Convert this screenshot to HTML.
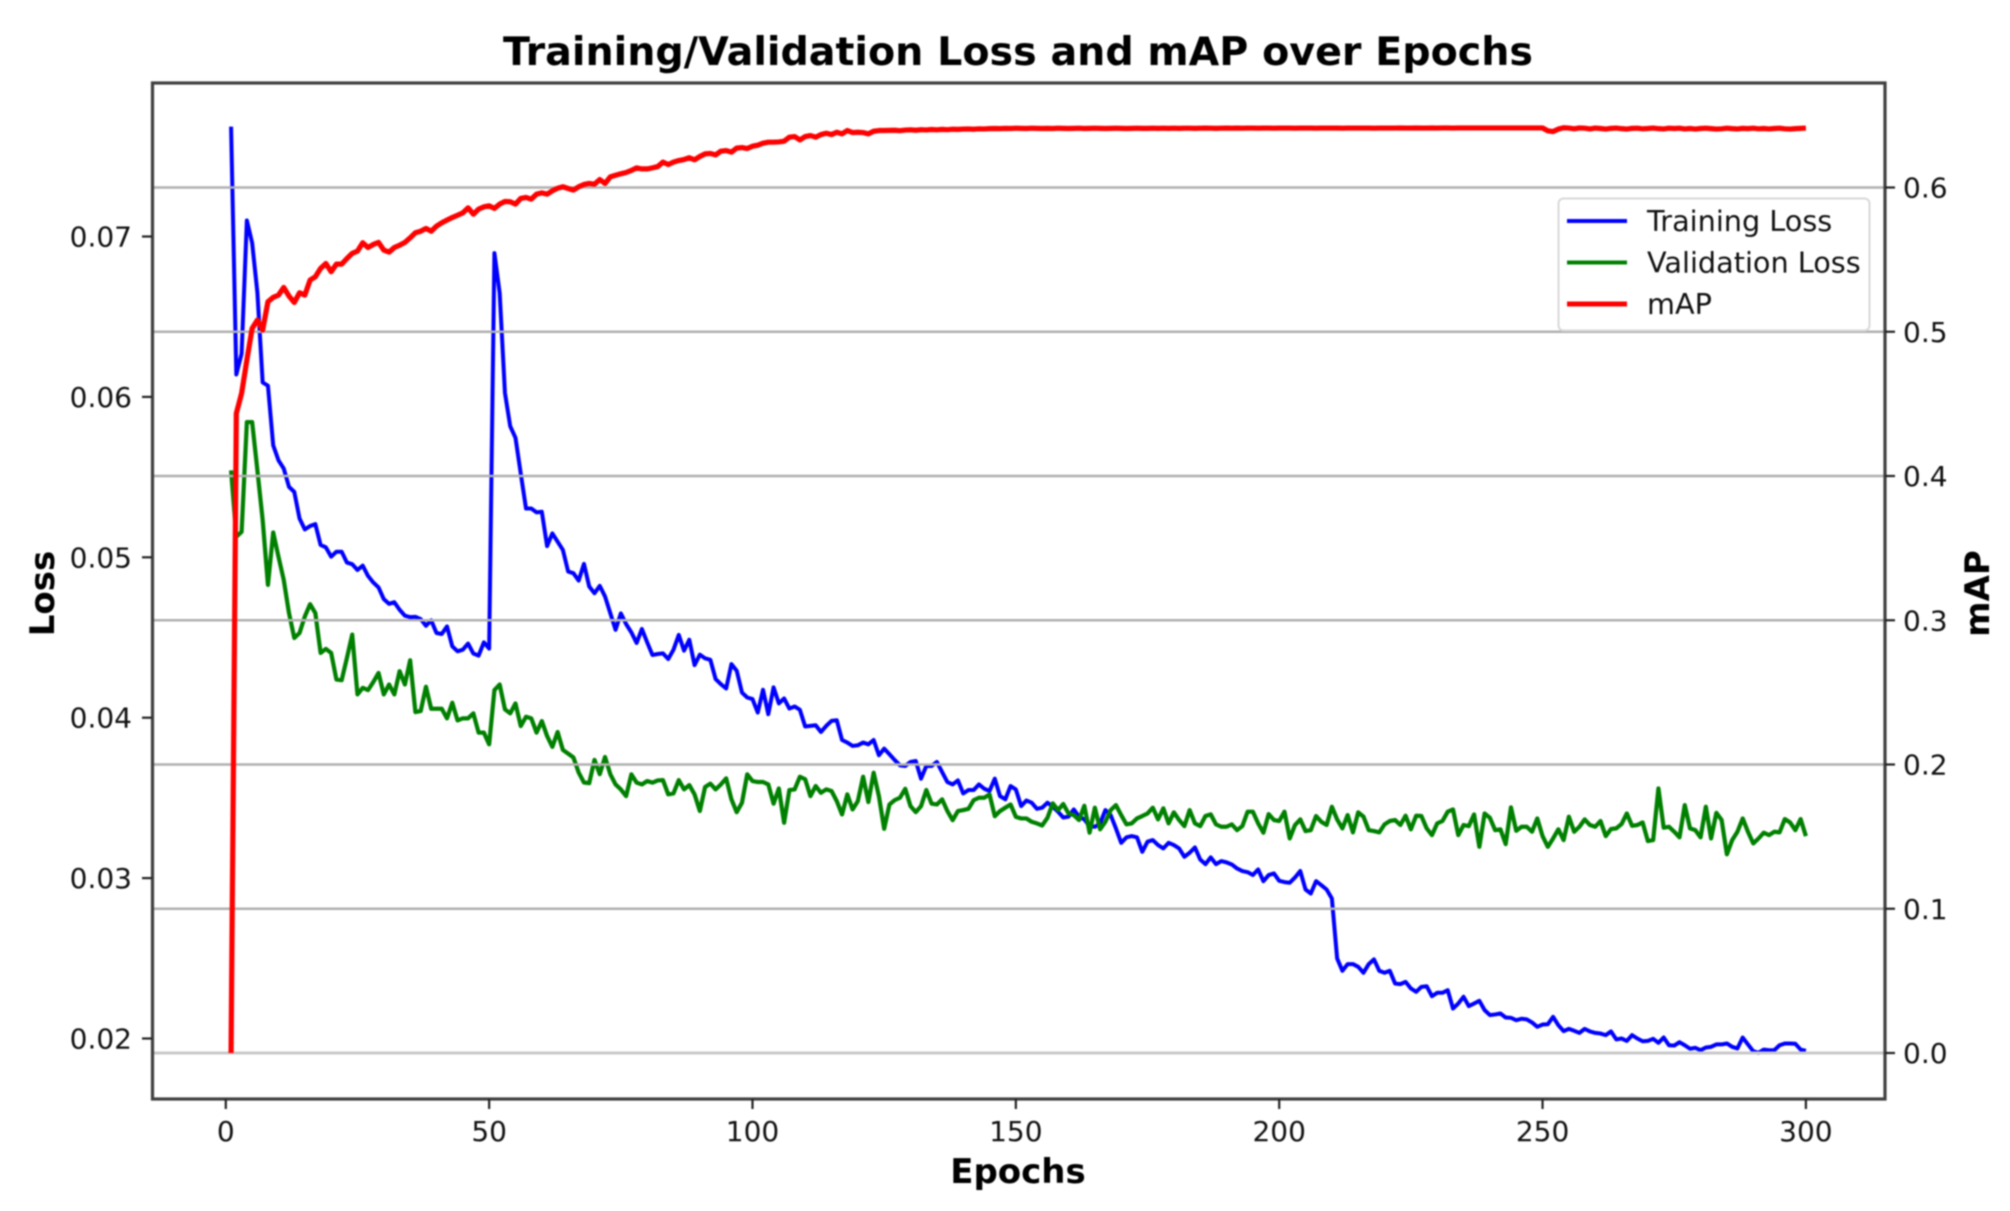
<!DOCTYPE html>
<html lang="en">
<head>
<meta charset="utf-8">
<title>Training/Validation Loss and mAP over Epochs</title>
<style>
html,body{margin:0;padding:0;background:#fff;}
#chart{display:block;width:2010px;height:1211px;filter:blur(0.9px);font-family:"DejaVu Sans","Liberation Sans",sans-serif;}
</style>
</head>
<body>
<svg id="chart" xmlns="http://www.w3.org/2000/svg" width="2010" height="1211" viewBox="0 0 2010 1211">
  <rect x="0" y="0" width="2010" height="1211" fill="#fff"/>
  <text x="1018" y="65" text-anchor="middle" font-size="39.6" font-weight="700" fill="#000">Training/Validation Loss and mAP over Epochs</text>
  <g id="under-grid"></g>
  <g id="grid"></g>
  <g id="over-grid"></g>
  <rect x="152.5" y="83" width="1732.5" height="1016" fill="none" stroke="#404040" stroke-width="3.2"/>
  <g id="ticks"></g>
  <text x="1018" y="1183" text-anchor="middle" font-size="34" font-weight="700" fill="#000">Epochs</text>
  <text transform="translate(54,593.5) rotate(-90)" text-anchor="middle" font-size="34" font-weight="700" fill="#000">Loss</text>
  <text transform="translate(1989,593.5) rotate(-90)" text-anchor="middle" font-size="34" font-weight="700" fill="#000">mAP</text>
  <g>
    <rect x="1558.5" y="198.5" width="311" height="132" rx="5" ry="5" fill="#fff" fill-opacity="0.85" stroke="#d8d8d8" stroke-width="2"/>
    <line x1="1567" y1="221" x2="1627" y2="221" stroke="#0000ff" stroke-width="4"/>
    <text x="1647" y="231" font-size="28.7" fill="#111">Training Loss</text>
    <line x1="1567" y1="262.5" x2="1627" y2="262.5" stroke="#008000" stroke-width="4"/>
    <text x="1647" y="272.5" font-size="28.7" fill="#111">Validation Loss</text>
    <line x1="1567" y1="304" x2="1627" y2="304" stroke="#ff0000" stroke-width="5"/>
    <text x="1647" y="314" font-size="28.7" fill="#111">mAP</text>
  </g>
</svg>
<script>
const epochTicks = [0, 50, 100, 150, 200, 250, 300];
const epochTickLabels = ["0", "50", "100", "150", "200", "250", "300"];
const lossTicks = [0.02, 0.03, 0.04, 0.05, 0.06, 0.07];
const lossTickLabels = ["0.02", "0.03", "0.04", "0.05", "0.06", "0.07"];
const mapTicks = [0, 0.1, 0.2, 0.3, 0.4, 0.5, 0.6];
const mapTickLabels = ["0.0", "0.1", "0.2", "0.3", "0.4", "0.5", "0.6"];

const trainingLoss = [
0.07685,0.0614,0.0627,0.0710,0.0696,0.0665,0.0609,0.0607,0.05698,0.05605,
0.05553,0.05439,0.05408,0.05242,0.05174,0.05195,0.05207,0.05077,0.05062,0.05004,
0.05035,0.05035,0.04967,0.04957,0.04921,0.04948,0.04884,0.04843,0.04812,0.04739,
0.0471,0.0472,0.04673,0.04636,0.04627,0.04629,0.04615,0.04573,0.04607,0.04528,
0.04522,0.04569,0.04445,0.04414,0.04424,0.04462,0.044,0.04387,0.0447,0.04431,
0.06896,0.06647,0.06025,0.05817,0.05745,0.05522,0.05304,0.05304,0.0528,0.05284,
0.0507,0.05149,0.05097,0.05046,0.04911,0.04901,0.04855,0.04959,0.04818,0.04776,
0.04822,0.04756,0.04652,0.04548,0.0465,0.04584,0.04532,0.04466,0.04553,0.0447,
0.04391,0.04397,0.04401,0.04366,0.04424,0.04516,0.04418,0.04486,0.04328,0.04393,
0.0437,0.04361,0.04241,0.04209,0.04182,0.04334,0.04293,0.04157,0.04126,0.04116,
0.04032,0.04174,0.04022,0.04189,0.04089,0.0412,0.04057,0.0407,0.04049,0.03945,
0.03949,0.03953,0.03911,0.03949,0.0398,0.03984,0.03861,0.03845,0.03824,0.03828,
0.03845,0.03834,0.03861,0.03766,0.03807,0.03772,0.03736,0.03703,0.03699,0.03724,
0.0373,0.0362,0.03699,0.03699,0.03724,0.03661,0.03599,0.03584,0.03609,0.03528,
0.03549,0.03549,0.03584,0.03557,0.03543,0.0362,0.03511,0.03491,0.03574,0.03553,
0.03449,0.03484,0.0347,0.03432,0.03439,0.0347,0.03445,0.03414,0.03378,0.03383,
0.03428,0.03383,0.03366,0.03324,0.0332,0.03341,0.03424,0.03393,0.0331,0.0322,
0.03254,0.03262,0.03254,0.03164,0.03227,0.03237,0.03206,0.03185,0.0322,0.03206,
0.03185,0.03133,0.03158,0.03191,0.03116,0.03087,0.03129,0.03087,0.03106,0.03098,
0.03085,0.0306,0.03044,0.03037,0.03019,0.03054,0.02981,0.03019,0.03029,0.02983,
0.02975,0.02971,0.03004,0.03044,0.02929,0.02904,0.02981,0.02956,0.02929,0.02873,
0.02499,0.02422,0.02464,0.02464,0.02447,0.0241,0.02464,0.02493,0.02422,0.0241,
0.02422,0.02343,0.02339,0.02353,0.02312,0.02291,0.02322,0.02326,0.02264,0.02285,
0.02285,0.02301,0.02187,0.02218,0.0226,0.02202,0.02218,0.02235,0.02177,0.02146,
0.0215,0.02156,0.02131,0.02129,0.02114,0.02123,0.02119,0.021,0.02073,0.02087,
0.02089,0.02135,0.02083,0.02046,0.0206,0.02048,0.02035,0.0206,0.02044,0.02035,
0.02031,0.02021,0.02044,0.01994,0.02,0.01985,0.02021,0.02,0.01983,0.01985,
0.01998,0.01973,0.02006,0.01958,0.01956,0.01977,0.01958,0.01936,0.01942,0.01927,
0.01944,0.01948,0.01963,0.01963,0.01969,0.01948,0.01938,0.02006,0.01963,0.01921,
0.01911,0.01931,0.01927,0.01927,0.01958,0.01969,0.01969,0.01967,0.01931,0.01923
];

const validationLoss = [
0.05542,0.05128,0.05159,0.05843,0.05843,0.05542,0.05232,0.04828,0.05155,0.05004,
0.04859,0.04652,0.04497,0.04528,0.04631,0.04708,0.04652,0.04404,0.04429,0.04404,
0.04238,0.04234,0.04373,0.04518,0.04145,0.04186,0.04172,0.04222,0.04279,0.04145,
0.04207,0.04145,0.0429,0.04207,0.04358,0.04035,0.04041,0.04193,0.04056,0.04056,
0.04056,0.03996,0.04093,0.03983,0.03996,0.03996,0.04027,0.03907,0.03907,0.03834,
0.04172,0.04207,0.04052,0.04027,0.04089,0.03948,0.04006,0.03996,0.03907,0.03979,
0.03886,0.03818,0.03911,0.03799,0.03776,0.03752,0.03658,0.03596,0.03592,0.03737,
0.03648,0.03755,0.03648,0.03584,0.03553,0.03511,0.03647,0.03595,0.03584,0.03605,
0.03595,0.03609,0.03611,0.03522,0.03528,0.03611,0.03553,0.0358,0.03522,0.03418,
0.03568,0.03589,0.03553,0.03584,0.03622,0.03491,0.03411,0.0347,0.03647,0.03605,
0.03599,0.03599,0.03584,0.03464,0.03559,0.03345,0.03549,0.03553,0.03632,0.03616,
0.03511,0.03574,0.03532,0.03553,0.03543,0.0348,0.03397,0.03522,0.03428,0.0348,
0.03632,0.03474,0.03657,0.03511,0.03307,0.03459,0.03486,0.03501,0.03557,0.03449,
0.03411,0.03449,0.03549,0.03464,0.03459,0.03491,0.03418,0.03361,0.03418,0.03424,
0.03432,0.03486,0.03501,0.03501,0.03522,0.03386,0.03418,0.03439,0.03459,0.03382,
0.03372,0.03372,0.03351,0.03341,0.03328,0.03376,0.03466,0.03424,0.03462,0.03403,
0.03393,0.03362,0.03451,0.03283,0.03439,0.03304,0.03351,0.03424,0.03455,0.03393,
0.03335,0.03341,0.03372,0.03387,0.03403,0.03439,0.03366,0.03435,0.03341,0.0341,
0.03362,0.03324,0.03424,0.03341,0.03324,0.03387,0.03397,0.03335,0.0332,0.0332,
0.03335,0.03299,0.03324,0.03414,0.03414,0.03341,0.03283,0.03399,0.03362,0.03356,
0.03414,0.03247,0.03331,0.03366,0.03293,0.03299,0.03387,0.03351,0.03331,0.03445,
0.03366,0.0331,0.03393,0.03285,0.0341,0.03383,0.03299,0.03293,0.03285,0.03335,
0.03356,0.03362,0.03331,0.03389,0.03304,0.03389,0.03387,0.0331,0.03268,0.03341,
0.03356,0.03414,0.03428,0.03268,0.03331,0.03324,0.03397,0.03195,0.03403,0.03376,
0.03299,0.03304,0.03212,0.03441,0.03295,0.0332,0.0332,0.03289,0.03372,0.03262,
0.03195,0.03247,0.03304,0.03237,0.03383,0.03289,0.0332,0.03366,0.03331,0.0332,
0.03356,0.03262,0.03306,0.0331,0.03337,0.03403,0.03326,0.03331,0.03347,0.03231,
0.03237,0.03559,0.03314,0.0332,0.03289,0.03254,0.03455,0.0331,0.03299,0.03254,
0.03445,0.03247,0.03407,0.03362,0.03148,0.03237,0.03289,0.03372,0.03289,0.03216,
0.03247,0.03283,0.03268,0.03289,0.03285,0.03368,0.03347,0.03299,0.03368,0.03262
];

const mapValues = [
0,0.4434,0.4573,0.4804,0.5023,0.5081,0.5012,0.5208,0.5238,0.5254,
0.5307,0.5247,0.5203,0.527,0.5254,0.5358,0.5381,0.5439,0.5473,0.5416,
0.5469,0.5469,0.5508,0.5543,0.5559,0.5617,0.5584,0.5605,0.5619,0.5566,
0.5552,0.5584,0.56,0.5619,0.5651,0.5686,0.5697,0.5716,0.5697,0.5732,
0.5755,0.5774,0.5792,0.5808,0.5824,0.5859,0.5815,0.585,0.5866,0.5873,
0.5855,0.5885,0.5903,0.5901,0.5885,0.5924,0.5931,0.5919,0.5954,0.5963,
0.5954,0.5977,0.5995,0.6005,0.5993,0.5982,0.6005,0.6021,0.6028,0.6023,
0.6055,0.6028,0.6074,0.6085,0.6095,0.6104,0.6118,0.6136,0.6129,0.6129,
0.6136,0.6145,0.6176,0.6159,0.6176,0.6187,0.6194,0.6206,0.6192,0.6215,
0.6233,0.6236,0.6226,0.6252,0.6256,0.6245,0.6273,0.6277,0.627,0.6286,
0.6293,0.6307,0.6314,0.6314,0.6316,0.6321,0.6349,0.6353,0.633,0.6353,
0.636,0.6349,0.6367,0.6376,0.6367,0.6383,0.6372,0.6395,0.6381,0.6383,
0.6381,0.6372,0.639,0.6395,0.6395,0.6396,0.6397,0.6394,0.6398,0.64,
0.6397,0.6401,0.6399,0.6402,0.64,0.6403,0.6401,0.6404,0.6403,0.6405,
0.6406,0.6404,0.6407,0.6406,0.6408,0.6409,0.6408,0.641,0.6409,0.6411,
0.641,0.6409,0.6411,0.641,0.6409,0.641,0.6409,0.6411,0.641,0.6409,
0.641,0.6411,0.6409,0.641,0.6411,0.641,0.6409,0.641,0.6411,0.641,
0.6409,0.641,0.6411,0.641,0.641,0.6411,0.641,0.6411,0.641,0.6411,
0.641,0.6411,0.6411,0.641,0.6411,0.6412,0.6411,0.641,0.6411,0.6412,
0.6411,0.6412,0.6411,0.6412,0.6412,0.6411,0.6412,0.6412,0.6411,0.6412,
0.6412,0.6412,0.6411,0.6412,0.6412,0.6412,0.6411,0.6412,0.6412,0.6412,
0.6412,0.6411,0.6412,0.6412,0.6412,0.6412,0.6412,0.6411,0.6412,0.6412,
0.6412,0.6412,0.6413,0.6412,0.6412,0.6413,0.6412,0.6412,0.6413,0.6412,
0.6413,0.6413,0.6412,0.6413,0.6413,0.6413,0.6413,0.6413,0.6413,0.6413,
0.6413,0.6413,0.6413,0.6413,0.6413,0.6413,0.6413,0.6413,0.6413,0.6413,
0.6393,0.6388,0.6405,0.6414,0.6412,0.6407,0.6413,0.6411,0.6406,0.6412,
0.6409,0.6405,0.641,0.6412,0.6408,0.6405,0.641,0.6411,0.6407,0.6409,
0.6412,0.6408,0.6406,0.6411,0.6409,0.6411,0.6406,0.6409,0.6405,0.6409,
0.6411,0.6408,0.6405,0.6407,0.6411,0.6408,0.6406,0.641,0.6408,0.6411,
0.6407,0.6409,0.6406,0.6409,0.6411,0.6407,0.6405,0.6408,0.641,0.6412
];

const SVGNS = 'http://www.w3.org/2000/svg';
const xScale = e => 225.8 + 5.267 * e;
const yLoss = v => 1038.5 - (v - 0.02) * 16040;
const yMap = v => 1053 - v * 1442.5;

function make(tag, attrs, parent, text) {
  const el = document.createElementNS(SVGNS, tag);
  for (const k in attrs) el.setAttribute(k, attrs[k]);
  if (text !== undefined) el.textContent = text;
  parent.appendChild(el);
  return el;
}
function lineD(values, yFn) {
  return values.map((v, i) => (i ? 'L' : 'M') + xScale(i + 1).toFixed(2) + ' ' + yFn(v).toFixed(2)).join('');
}

const under = document.getElementById('under-grid');
const grid = document.getElementById('grid');
const over = document.getElementById('over-grid');
const ticks = document.getElementById('ticks');

const trainPath = make('path', {d: lineD(trainingLoss, yLoss), fill: 'none', stroke: '#0000ff', 'stroke-width': 4, 'stroke-linejoin': 'round'}, under);



const valPath = make('path', {d: lineD(validationLoss, yLoss), fill: 'none', stroke: '#008000', 'stroke-width': 4.2, 'stroke-linejoin': 'round'}, under);



mapTicks.forEach((t, i) => {
  const y = yMap(t);
  const g = make('line', {x1: 154, x2: 1884, y1: y, y2: y, stroke: i === 0 ? '#c8c8c8' : '#b0b0b0', 'stroke-width': i === 0 ? 3 : 2.4}, grid);
  
  

  const tk = make('line', {x1: 1885, x2: 1895, y1: y, y2: y, stroke: '#222', 'stroke-width': 2.2}, ticks);
  
  

  const lb = make('text', {x: 1903, y: y + 10, 'font-size': 28, fill: '#111'}, ticks, mapTickLabels[i]);
  
  
});

const mapPath = make('path', {d: lineD(mapValues, yMap), fill: 'none', stroke: '#ff0000', 'stroke-width': 5.2, 'stroke-linejoin': 'round'}, over);



lossTicks.forEach((t, i) => {
  const y = yLoss(t);
  const tk = make('line', {x1: 142, x2: 152, y1: y, y2: y, stroke: '#222', 'stroke-width': 2.2}, ticks);
  
  

  const lb = make('text', {x: 132, y: y + 10, 'text-anchor': 'end', 'font-size': 28, fill: '#111'}, ticks, lossTickLabels[i]);
  
  
});

epochTicks.forEach((t, i) => {
  const x = xScale(t);
  const tk = make('line', {x1: x, x2: x, y1: 1099, y2: 1109, stroke: '#222', 'stroke-width': 2.2}, ticks);
  
  

  const lb = make('text', {x: x, y: 1141, 'text-anchor': 'middle', 'font-size': 28, fill: '#111'}, ticks, epochTickLabels[i]);
  
  
});
</script>
</body>
</html>
